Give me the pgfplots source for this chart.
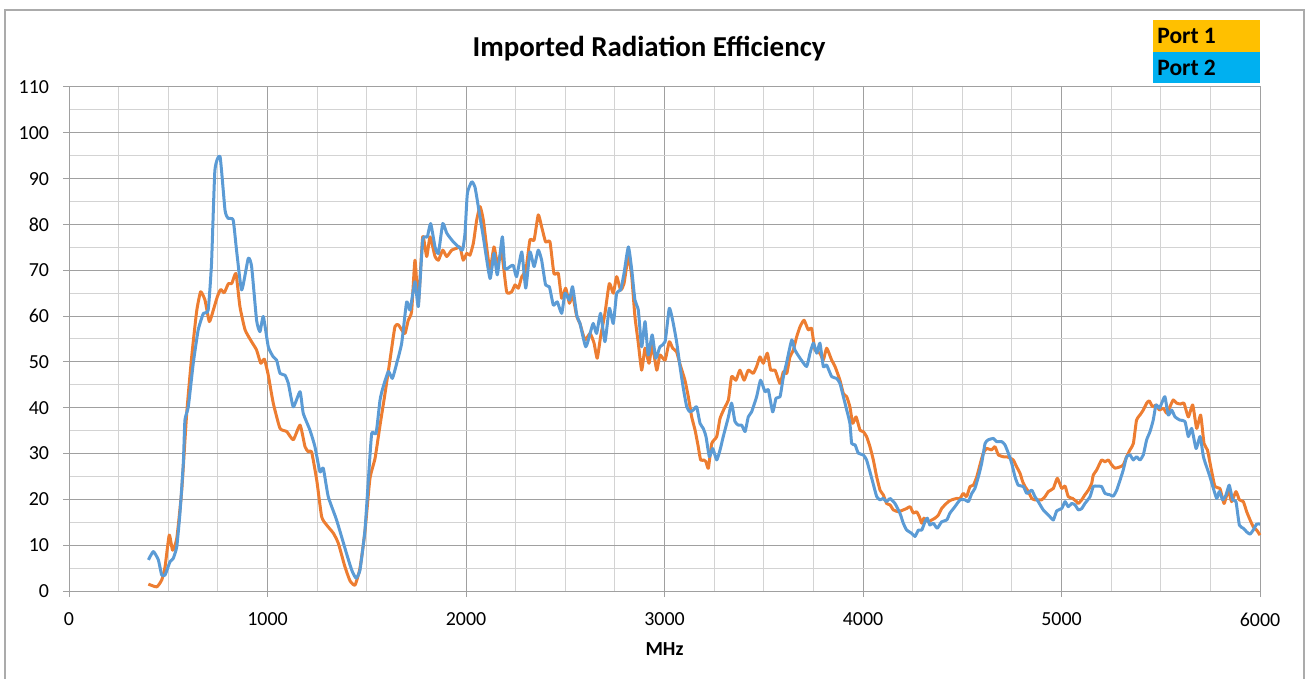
\documentclass[border=0pt]{standalone}
\usepackage{pgfplots}
\pgfplotsset{compat=1.18}
\usepackage{pgfplotstable}
\usepackage{fontspec}
\setmainfont{Carlito}
\definecolor{cOrange}{HTML}{ED7D31}
\definecolor{cBlue}{HTML}{5B9BD5}
\definecolor{legOrange}{HTML}{FFC000}
\definecolor{legBlue}{HTML}{00B0F0}
\definecolor{gMajor}{HTML}{A0A0A0}
\definecolor{gMinor}{HTML}{D3D3D3}
\definecolor{frameGray}{HTML}{ABABAB}

\pgfplotstableread{
x y
400 1.5
442 0.9
467 2.4
484 5.3
505 12.2
522 8.9
543 11.5
568 22
593 38.8
618 51.1
643 61
663 65.3
685 63.5
707 58.8
727 61.3
747 64.2
764 65.8
782 65.1
803 67.1
820 67.1
841 69.3
861 62.1
887 57
920 54.4
945 52.6
966 49.7
984 50.6
1004 47.1
1029 41
1063 35.5
1097 34.8
1130 33
1164 36.2
1189 31.5
1205 30.4
1222 30.4
1248 24.2
1273 16.2
1298 14.4
1332 12.6
1357 10.4
1390 5.3
1416 2.2
1441 1.3
1466 5
1491 13
1516 24.5
1542 29
1567 36.2
1592 43.1
1617 50.4
1642 57.7
1659 58.1
1676 57
1693 56.2
1709 59.1
1726 61
1743 72.2
1760 62.8
1782 77.3
1802 73
1819 77.3
1844 73
1861 72.2
1883 74.4
1903 73
1928 74.4
1953 74.8
1970 75.1
1986 72.2
2004 73.7
2020 73.3
2037 75.9
2054 81
2071 83.9
2087 81
2104 75.1
2121 70.1
2141 75.1
2158 71.5
2180 73.7
2205 65.3
2230 65.3
2247 66.8
2264 66.1
2281 68.6
2302 70.1
2322 76.6
2343 76.6
2364 82.1
2381 79.5
2401 76.2
2423 76.2
2443 69.3
2465 69.3
2482 63.9
2502 66.1
2521 62.8
2537 64.6
2558 59.9
2574 58.4
2599 54.8
2625 56.2
2645 54.1
2661 50.8
2678 55.5
2700 60.6
2722 67.1
2742 65
2759 68.6
2779 65.7
2796 67.1
2818 73
2835 68.6
2851 59.9
2868 54.1
2885 48.2
2902 53
2922 49.7
2938 53.7
2961 48.2
2977 51.5
3003 50.4
3024 54.4
3041 53
3061 52.2
3078 49.5
3103 46
3120 42.4
3137 38
3154 35.1
3170 31.5
3182 28.6
3199 28.6
3209 28.2
3221 26.8
3238 32.2
3263 33.7
3280 37.7
3305 40.2
3322 41.7
3338 46.8
3360 46
3380 48.2
3401 46
3422 48.2
3447 47.5
3464 49
3481 51.1
3498 49.7
3518 51.9
3535 48.2
3557 48.2
3582 45.3
3599 47.9
3616 47.5
3632 51.1
3649 52.6
3666 55.5
3683 57.7
3703 59.1
3724 57
3741 57.3
3758 52.6
3783 51.9
3800 50.4
3817 53
3842 50.4
3859 49
3884 46
3901 43.1
3918 42.4
3934 40.2
3948 36.6
3965 38
3985 35.1
4001 34.8
4018 33.7
4035 31.5
4052 28.6
4069 24.9
4086 22
4102 21
4119 19.1
4136 18.8
4153 17.7
4178 17.3
4203 17.7
4220 18
4237 18.4
4254 17
4270 17.3
4284 16.2
4296 14.8
4307 15.9
4329 15.1
4346 15.5
4363 15.9
4380 16.6
4396 18
4413 18.8
4430 19.5
4447 19.9
4472 20.2
4489 20.2
4505 21.3
4522 20.6
4539 22.8
4556 23.1
4573 24.9
4589 27.5
4606 30.1
4623 31.1
4648 30.8
4665 31.5
4682 29.7
4707 29.3
4724 29.3
4741 29
4757 28.6
4774 27.1
4791 25.7
4804 23.9
4816 22.8
4833 21.7
4850 20.2
4866 19.9
4883 19.9
4900 19.9
4917 20.6
4934 21.7
4959 22.4
4979 24.6
5001 22.4
5018 22.9
5034 20.6
5056 20.2
5076 19.5
5085 19.1
5102 19.9
5118 21
5135 22
5152 23.5
5160 25.3
5177 26.4
5202 28.6
5219 28.2
5236 28.6
5253 27.5
5270 26.8
5295 27.1
5311 27.5
5328 29.3
5345 30.8
5362 32.2
5378 37.3
5395 38.4
5412 39.5
5429 41
5442 41.5
5459 40.2
5476 40.6
5493 39.5
5513 39.9
5530 38.8
5546 40.2
5563 41.7
5580 41
5600 40.8
5617 41
5639 38
5661 40.6
5681 35.5
5701 38.4
5718 32.2
5735 30.8
5752 27.1
5773 22.8
5798 22.4
5819 19.1
5840 22
5857 19.5
5879 21.7
5896 19.9
5916 19.5
5933 17.3
5950 15.5
5966 14
5983 13.3
6000 12.2
}\portone

\pgfplotstableread{
x y
400 6.8
425 8.6
450 6.8
467 3.5
484 3.5
509 6.4
525 7.1
543 9.7
559 17
576 28
584 37.3
601 40.2
626 49.7
651 57
677 60.6
701 61.3
718 71.5
735 91.8
761 94.8
786 83.1
802 81.3
827 81
844 74.4
870 65.7
903 72.6
920 70.8
945 59.1
962 56.6
979 59.9
1004 53.3
1029 51.1
1046 50.4
1063 47.5
1088 47.1
1105 45.3
1130 40.2
1164 43.5
1180 38.8
1214 35.1
1239 31.5
1264 26
1281 26.8
1306 20.6
1348 15.5
1398 8.2
1424 4.6
1446 2.8
1466 4.6
1491 13.3
1508 24.2
1525 34.4
1547 34.4
1567 41.7
1583 44.6
1609 47.9
1629 46.4
1651 49.7
1676 54.1
1701 63.1
1718 61.3
1743 67.5
1760 62.1
1782 76.6
1805 77.3
1822 80.2
1844 75.1
1861 73.7
1883 80.2
1903 78.1
1936 76.2
1970 74.8
1983 74.4
1995 78.1
2007 86.8
2029 89.3
2045 88.2
2062 83.9
2087 77.3
2121 68.2
2141 73.7
2158 69
2183 77.3
2196 70.4
2222 70.8
2238 71.1
2255 68.6
2281 74
2301 66.1
2322 74
2343 70.8
2364 74.4
2381 72.2
2401 66.8
2420 66.4
2440 62.4
2460 63.1
2482 60.6
2499 65
2521 63.5
2537 66.4
2558 60.2
2574 58.4
2603 53.3
2625 56.2
2641 58.4
2658 56.2
2678 60.6
2700 54.4
2722 61.7
2742 58.4
2759 65
2779 65.7
2796 69.3
2818 75.1
2835 70.1
2851 63.5
2868 61.3
2885 53.3
2902 58.8
2918 51.5
2938 55.9
2956 50.8
2977 53.3
3003 54.4
3024 61.7
3041 59.1
3061 54.4
3078 49
3095 44.2
3112 40.2
3128 39.1
3145 39.5
3162 40.2
3179 36.6
3195 35.5
3209 33.7
3226 29.3
3243 31.1
3263 28.6
3280 30.8
3296 33.7
3322 38
3338 41
3355 37
3372 36.2
3389 36.2
3406 34.8
3422 38
3439 39.1
3464 42.4
3484 46
3506 43.5
3523 43.9
3545 39.1
3562 42.1
3582 42.4
3599 46.8
3616 50
3641 54.8
3657 52.6
3683 50.8
3716 49
3733 51.9
3750 54.1
3767 51.9
3783 54.1
3800 49
3817 49.3
3842 46.8
3867 46.4
3884 45.3
3901 42.4
3918 39.5
3934 36.6
3943 32.2
3960 31.9
3976 30.1
4001 29.7
4018 28.6
4044 24.6
4069 20.6
4086 19.9
4102 20.2
4119 19.5
4136 20.2
4161 19.1
4186 17
4203 14.8
4220 13.3
4245 12.6
4262 11.9
4279 13.3
4296 13.3
4312 15.1
4324 15.9
4337 14.4
4354 14.8
4374 13.7
4396 15.1
4422 15.5
4438 17
4463 18.4
4489 19.9
4514 19.9
4531 19.5
4548 21.3
4564 22.4
4581 24.9
4598 27.9
4615 32.2
4631 33
4657 33.3
4673 32.6
4699 32.6
4715 31.9
4732 30.1
4749 27.9
4766 24.9
4782 23.1
4808 22.8
4825 21.3
4850 22
4866 20.6
4883 19.5
4908 17.7
4942 16.2
4959 15.5
4976 17.5
5001 18
5018 19.5
5034 18.4
5051 19.1
5068 18.8
5085 17.7
5102 18
5118 19.1
5144 20.6
5160 22.8
5177 22.9
5202 22.8
5219 21.3
5244 21
5261 20.7
5278 22
5295 24.2
5311 26.4
5328 29.3
5345 29.7
5362 28.6
5378 29.3
5395 28.6
5412 29.7
5429 33
5446 34.8
5462 37.3
5476 40.6
5493 39.9
5505 41
5521 42.4
5538 38.4
5555 39.5
5572 38
5597 37.3
5622 37
5639 33.7
5656 35.5
5678 31.1
5698 33.7
5715 29.3
5731 27.1
5748 24.9
5765 22.4
5782 20.2
5795 21.7
5812 19.9
5829 21
5845 23.1
5862 19.9
5879 19.5
5896 14.4
5916 13.7
5933 12.9
5950 12.4
5966 13.3
5983 14.6
6000 14.6
}\porttwo

\begin{document}
\begin{tikzpicture}
\useasboundingbox (0,0) rectangle (652.5bp,339.5bp);
\draw[frameGray, line width=0.6bp] (2.5bp,-2bp) -- (2.5bp,334.5bp) -- (652bp,334.5bp) -- (652bp,-2bp);
\begin{axis}[
  at={(34.5bp,44bp)}, anchor=south west,
  scale only axis, width=595.5bp, height=252bp,
  xmin=0, xmax=6000, ymin=0, ymax=110,
  xtick={0,1000,...,6000}, ytick={0,10,...,110},
  minor x tick num=3, minor y tick num=1,
  grid=both,
  major grid style={gMajor, line width=0.5bp},
  minor grid style={gMinor, line width=0.5bp},
  axis line style={gMajor, line width=0.5bp},
  tick style={gMajor, line width=0.5bp},
  tick align=outside, major tick length=3bp, minor tick length=0pt,
  xtick pos=bottom, ytick pos=left,
  ticklabel style={font=\fontsize{10}{12}\selectfont, text=black},
  xticklabel style={yshift=-4.5bp},
  yticklabel style={xshift=-3.5bp},
  /pgf/number format/assume math mode=true,
  /pgf/number format/1000 sep={},
  xlabel={\textbf{MHz}},
  xlabel style={font=\fontsize{10}{12}\selectfont, at={(axis description cs:0.5,-0.115)}, anchor=center},
  every axis title shift=0pt,
  title={\textbf{Imported Radiation Efficiency}},
  title style={font=\fontsize{14.5}{17}\selectfont, at={(axis description cs:0.487,1.0754)}, anchor=center},
  clip=false,
]
\addplot[cOrange, line width=1.5bp, smooth, tension=0.3, line join=round] table[x=x,y=y] {\portone};
\addplot[cBlue, line width=1.5bp, smooth, tension=0.3, line join=round] table[x=x,y=y] {\porttwo};
\end{axis}
\fill[legOrange] (576.5bp,313.5bp) rectangle (630bp,329.5bp);
\fill[legBlue] (576.5bp,298bp) rectangle (630bp,313.5bp);
\node[anchor=west, inner sep=0pt, font=\fontsize{11.8}{13}\selectfont\bfseries] at (578.5bp,321.5bp) {Port 1};
\node[anchor=west, inner sep=0pt, font=\fontsize{11.8}{13}\selectfont\bfseries] at (578.5bp,305.75bp) {Port 2};
\end{tikzpicture}
\end{document}
